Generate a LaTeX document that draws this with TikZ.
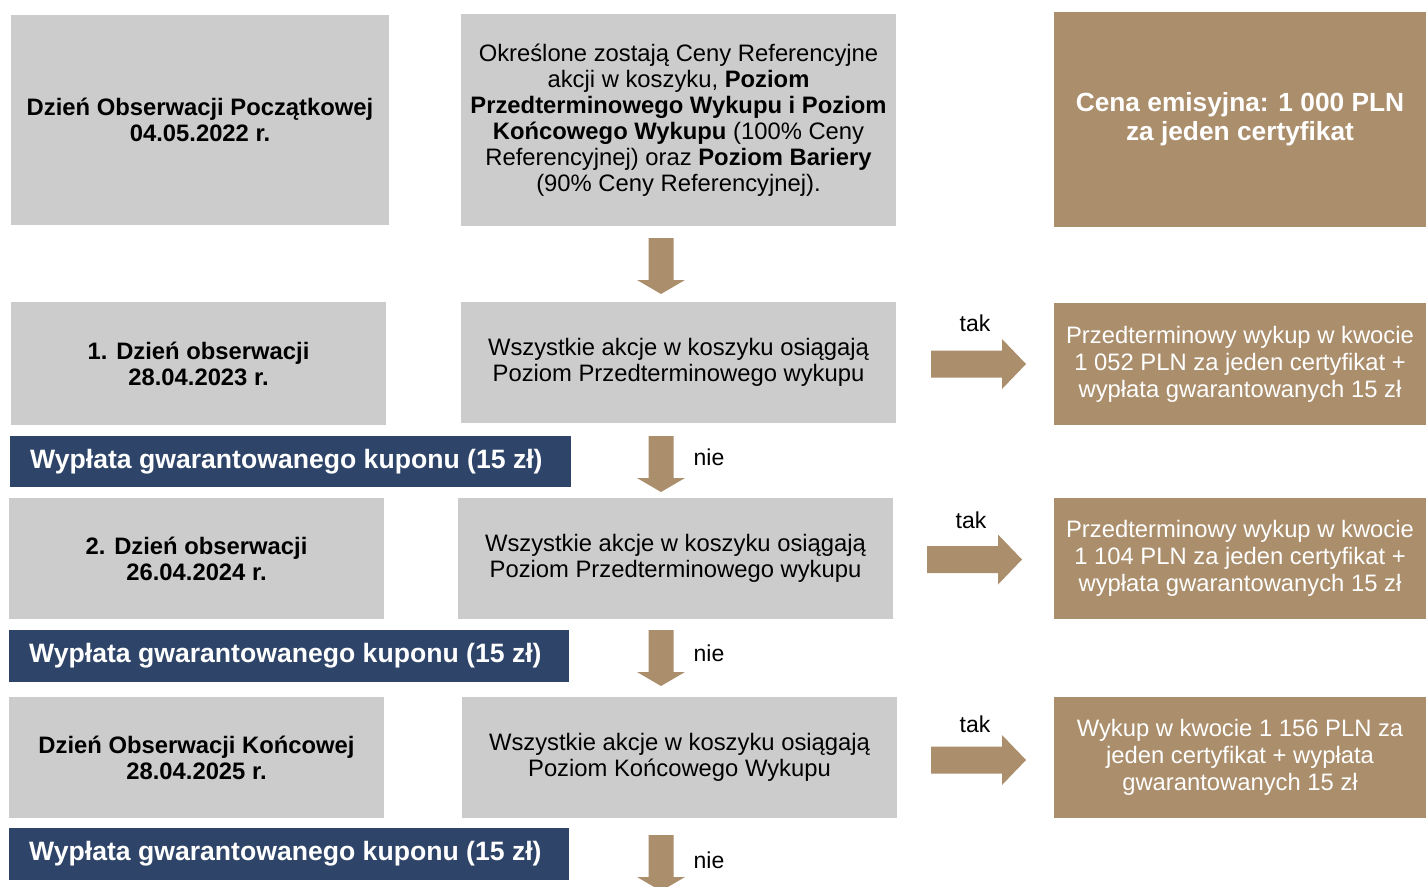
\documentclass[tikz,border=0pt]{standalone}
\usepackage{fontspec}
\usepackage{graphicx}
\setmainfont{Liberation Sans}
\definecolor{gbox}{HTML}{CCCCCC}
\definecolor{tanc}{HTML}{AB8E6B}
\definecolor{navy}{HTML}{2E4468}
\newcommand\downarr[2]{\fill[tanc] ({#1-12.5},{#2}) -- ({#1+12.5},{#2}) -- ({#1+12.5},{#2+42}) -- ({#1+24},{#2+42}) -- ({#1},{#2+56}) -- ({#1-24},{#2+42}) -- ({#1-12.5},{#2+42}) -- cycle;}
\newcommand\rightarr[2]{\fill[tanc] ({#1},{#2-13.5}) -- ({#1+71},{#2-13.5}) -- ({#1+71},{#2-25}) -- ({#1+95},{#2}) -- ({#1+71},{#2+25}) -- ({#1+71},{#2+13.5}) -- ({#1},{#2+13.5}) -- cycle;}
\begin{document}
\begin{tikzpicture}[x=1pt,y=-1pt,
  base/.style={inner sep=0pt, outer sep=0pt, anchor=north west, align=center},
  grayl/.style={base, fill=gbox, font=\fontsize{23.8}{26}\selectfont\bfseries},
  graym/.style={base, fill=gbox, font=\fontsize{23.8}{26}\selectfont},
  tanb/.style={base, fill=tanc, text=white, font=\fontsize{23.8}{27}\selectfont},
  bar/.style={base, fill=navy},
  bartext/.style={inner sep=0pt, anchor=west, text=white, font=\fontsize{26.6}{30}\selectfont\bfseries},
  lbl/.style={inner sep=0pt, font=\fontsize{23}{25}\selectfont}
]
\useasboundingbox (0,0) rectangle (1426,886);
\clip (0,0) rectangle (1426,886);
% row 0
\node[grayl, minimum width=378, minimum height=210] (l0) at (11,15) {Dzień Obserwacji Początkowej\\04.05.2022 r.};
\node[graym, minimum width=435, minimum height=212] (m0) at (461,14) {Określone zostają Ceny Referencyjne\\akcji w koszyku, \textbf{Poziom}\\\textbf{Przedterminowego Wykupu i Poziom}\\\textbf{Końcowego Wykupu} (100\% Ceny\\Referencyjnej) oraz \textbf{Poziom Bariery}\\(90\% Ceny Referencyjnej).};
\node[tanb, minimum width=372, minimum height=215, font=\fontsize{26.3}{29}\selectfont\bfseries] (r0) at (1054,12) {Cena emisyjna: 1 000 PLN\\za jeden certyfikat};
\downarr{661}{238}
% row 1
\node[grayl, minimum width=375, minimum height=123] (l1) at (11,302) {1. Dzień obserwacji\\28.04.2023 r.};
\node[graym, minimum width=435, minimum height=121] (m1) at (461,302) {Wszystkie akcje w koszyku osiągają\\Poziom Przedterminowego wykupu};
\node[tanb, minimum width=372, minimum height=122] (r1) at (1054,303) {Przedterminowy wykup w kwocie\\1 052 PLN za jeden certyfikat +\\wypłata gwarantowanych 15 zł};
\rightarr{931}{364}
\node[lbl] (t1) at (975,323) {tak};
\node[bar, minimum width=561, minimum height=51] (b1) at (10,436) {};
\node[bartext] (bt1) at (30,461.5) {Wypłata gwarantowanego kuponu (15 zł)};
\downarr{661}{436}
\node[lbl] (n1) at (709,457) {nie};
% row 2
\node[grayl, minimum width=375, minimum height=121] (l2) at (9,498) {2. Dzień obserwacji\\26.04.2024 r.};
\node[graym, minimum width=435, minimum height=121] (m2) at (458,498) {Wszystkie akcje w koszyku osiągają\\Poziom Przedterminowego wykupu};
\node[tanb, minimum width=372, minimum height=121] (r2) at (1054,498) {Przedterminowy wykup w kwocie\\1 104 PLN za jeden certyfikat +\\wypłata gwarantowanych 15 zł};
\rightarr{927}{559.5}
\node[lbl] (t2) at (971,520) {tak};
\node[bar, minimum width=560, minimum height=52] (b2) at (9,630) {};
\node[bartext] (bt2) at (29,656) {Wypłata gwarantowanego kuponu (15 zł)};
\downarr{661}{630}
\node[lbl] (n2) at (709,653) {nie};
% row 3
\node[grayl, minimum width=375, minimum height=121] (l3) at (9,697) {Dzień Obserwacji Końcowej\\28.04.2025 r.};
\node[graym, minimum width=435, minimum height=121] (m3) at (462,697) {Wszystkie akcje w koszyku osiągają\\Poziom Końcowego Wykupu};
\node[tanb, minimum width=372, minimum height=121] (r3) at (1054,697) {Wykup w kwocie 1 156 PLN za\\jeden certyfikat + wypłata\\gwarantowanych 15 zł};
\rightarr{931}{760}
\node[lbl] (t3) at (975,724) {tak};
\node[bar, minimum width=560, minimum height=52] (b3) at (9,828) {};
\node[bartext] (bt3) at (29,854) {Wypłata gwarantowanego kuponu (15 zł)};
\downarr{661}{835}
\node[lbl] (n3) at (709,860) {nie};
\end{tikzpicture}
\end{document}
